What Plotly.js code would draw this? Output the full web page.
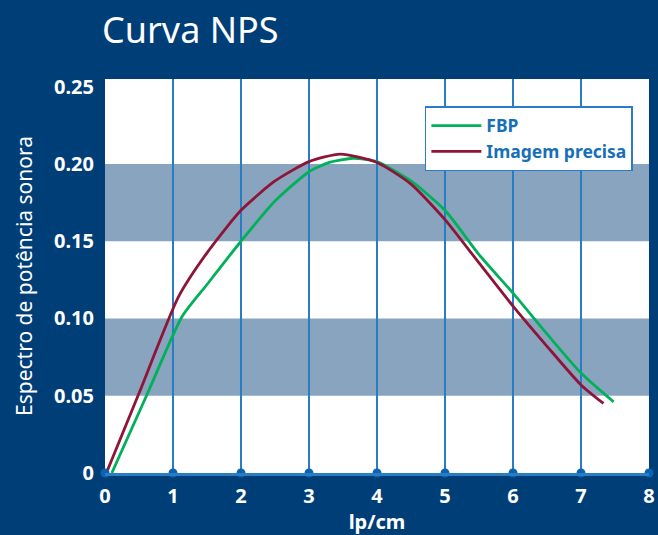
<!DOCTYPE html>
<html>
<head>
<meta charset="utf-8">
<script src="https://cdn.plot.ly/plotly-3.0.1.min.js"></script>
<style>html,body{margin:0;padding:0;background:#003e78;}#chart{width:658px;height:535px;}</style>
</head>
<body>
<div id="chart"></div>
<script>
const fbpX = [0.1, 0.62, 1.13, 1.5, 2.0, 2.5, 3.0, 3.3, 3.65, 4.0, 4.5, 5.0, 5.5, 6.0, 6.5, 7.0, 7.48];
const fbpY = [0.0, 0.051, 0.101, 0.122, 0.150, 0.176, 0.195, 0.201, 0.2037, 0.2015, 0.189, 0.170, 0.1414, 0.1164, 0.090, 0.0647, 0.046];
const precX = [0.02, 0.5, 1.08, 1.5, 2.0, 2.5, 3.0, 3.46, 4.0, 4.5, 5.0, 5.5, 6.0, 6.5, 7.0, 7.33];
const precY = [0.0, 0.0516, 0.114, 0.1425, 0.170, 0.189, 0.2015, 0.2064, 0.201, 0.187, 0.164, 0.136, 0.108, 0.082, 0.057, 0.045];
const xTicks = [0, 1, 2, 3, 4, 5, 6, 7, 8];
const yTicks = [0, 0.05, 0.10, 0.15, 0.20, 0.25];
const yTickText = ['0', '0.05', '0.10', '0.15', '0.20', '0.25'];
const bands = [[0.05, 0.10], [0.15, 0.20]];

const font = '"Noto Sans", "Open Sans", sans-serif';
const xRange = [0, 8];
const yRange = [0, 0.255];
const traces = [
  {x: fbpX, y: fbpY, name: 'FBP', mode: 'lines', line: {color: '#00b15a', width: 2.8, shape: 'spline', smoothing: 0.6}},
  {x: precX, y: precY, name: 'Imagem precisa', mode: 'lines', line: {color: '#8e1537', width: 2.8, shape: 'spline', smoothing: 0.6}},
  {x: xTicks, y: xTicks.map(() => 0), xaxis: 'x2', yaxis: 'y2', mode: 'markers', showlegend: false, hoverinfo: 'skip', cliponaxis: false,
   marker: {color: '#0a63b0', size: 9}}
];
const shapes = bands.map(b => ({type: 'rect', xref: 'paper', yref: 'y', x0: 0, x1: 1, y0: b[0], y1: b[1],
  fillcolor: '#88a4be', line: {width: 0}, layer: 'below'}));

const layout = {
  width: 658, height: 535,
  paper_bgcolor: '#003e78', plot_bgcolor: '#ffffff',
  margin: {l: 105, r: 9, t: 79, b: 62},
  font: {family: font, color: '#ffffff'},
  title: {text: 'Curva NPS', x: 102/658, xanchor: 'left', xref: 'container', y: 1 - 30/535, yanchor: 'middle', yref: 'container',
    font: {size: 36, color: '#ffffff', family: font}},
  xaxis: {range: xRange, tickvals: xTicks, ticktext: xTicks.map(String), showgrid: true, gridcolor: '#2a7dc2', gridwidth: 1.5,
    zeroline: false, showline: true, linecolor: '#2a7dc2', linewidth: 2.5, ticks: '', ticklabelstandoff: 3,
    tickfont: {size: 20, color: '#ffffff', family: font, weight: 'bold'},
    title: {text: 'lp/cm', font: {size: 20, color: '#ffffff', family: font, weight: 'bold'}, standoff: 12}},
  yaxis: {range: yRange, tickvals: yTicks, ticktext: yTickText, showgrid: false, zeroline: false, ticks: '', ticklabelstandoff: 10,
    tickfont: {size: 20, color: '#ffffff', family: font, weight: 'bold'},
    title: {text: 'Espectro de potência sonora', font: {size: 21, color: '#ffffff', family: font}, standoff: 15}},
  xaxis2: {overlaying: 'x', range: xRange, visible: false, showgrid: false, zeroline: false},
  yaxis2: {overlaying: 'y', range: yRange, visible: false, showgrid: false, zeroline: false},
  shapes: shapes,
  showlegend: true,
  legend: {x: 0.588, y: 0.931, xanchor: 'left', yanchor: 'top', bgcolor: '#ffffff', bordercolor: '#2a7dc2', borderwidth: 1.5,
    font: {size: 17.5, color: '#1670b8', family: font, weight: 'bold'}, itemwidth: 50, tracegroupgap: 0}
};
Plotly.newPlot('chart', traces, layout, {displayModeBar: false, staticPlot: true});
</script>
</body>
</html>
